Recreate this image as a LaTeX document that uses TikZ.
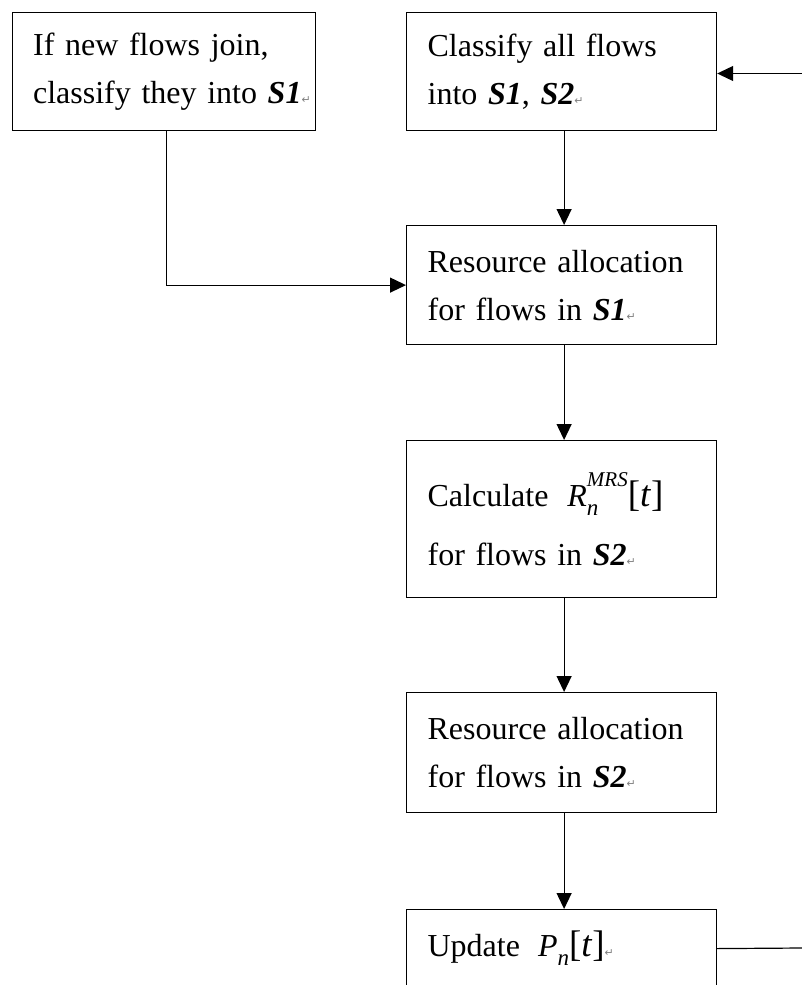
\documentclass[tikz,border=0pt]{standalone}
\usepackage{fontspec}
\setmainfont{Liberation Serif}
\newfontfamily\symfont{DejaVu Sans}
\usetikzlibrary{arrows.meta}
\newcommand{\ret}{{\symfont\fontsize{11}{11}\selectfont\color{gray}\char"21B5}}
\newcommand{\bs}[1]{\textbf{\textit{#1}}}
\newcommand{\boxfont}{\fontsize{32}{48}\selectfont\spaceskip=5.5pt plus 1pt\relax}
\newcommand{\supsubx}[3]{%
  \textit{#1}%
  \setbox0\hbox{\fontsize{21}{21}\selectfont\itshape #2}%
  \setbox2\hbox{\fontsize{23}{23}\selectfont\itshape #3}%
  \ifdim\wd0>\wd2 \dimen0=\wd0 \else \dimen0=\wd2 \fi
  \rlap{\raise 20pt\copy0}\rlap{\lower 9pt\copy2}\hskip\dimen0\relax}
\newcommand{\brt}{{\fontsize{37}{37}\selectfont[\textit{t}]}}
\begin{document}
\begin{tikzpicture}[x=1pt,y=-1pt,
  box/.style={draw, line width=1.2pt, minimum width=310pt, text width=268pt,
    inner xsep=21pt, inner ysep=0pt, align=left, anchor=north west,
    font=\boxfont},
  arr/.style={-{Triangle[length=16pt,width=15pt]}, line width=1.2pt}]
\useasboundingbox (0,0) rectangle (802,985);
\node[box, minimum width=303pt, text width=261pt, minimum height=118.5pt] (A) at (11.5,11.5)
  {\mbox{If new flows join,}\\\mbox{classify they into \bs{S1}\ret}};
\node[box, minimum height=118.5pt] (B) at (406,11.5)
  {\mbox{Classify all flows}\\\mbox{into \bs{S1}, \bs{S2}\ret}};
\node[box, minimum height=119pt] (C) at (406,225)
  {\mbox{Resource allocation}\\\mbox{for flows in \bs{S1}\ret}};
\node[box, minimum height=157pt] (D) at (406,440)
  {\mbox{Calculate\hspace{19pt}\supsubx{R}{MRS}{n}\brt}\\[11pt]\mbox{for flows in \bs{S2}\ret}};
\node[box, minimum height=120pt] (E) at (406,692)
  {\mbox{Resource allocation}\\\mbox{for flows in \bs{S2}\ret}};
\node[box, minimum height=78pt] (F) at (406,909)
  {\mbox{Update\hspace{18pt}\supsubx{P}{}{n}\brt\ret}};
\coordinate (inB) at (802,73.5);
\coordinate (outF) at (802,948);
\draw[arr] (inB) -- (inB -| B.east);
\draw[line width=1.2pt] (F.east) -- (outF);
\draw[arr] ([xshift=2.5pt]B.south) -- ([xshift=2.5pt]C.north);
\draw[arr] ([xshift=2.5pt]C.south) -- ([xshift=2.5pt]D.north);
\draw[arr] ([xshift=2.5pt]D.south) -- ([xshift=2.5pt]E.north);
\draw[arr] ([xshift=2.5pt]E.south) -- ([xshift=2.5pt]F.north);
\draw[arr] ([xshift=3pt]A.south) |- (C.west);
\end{tikzpicture}
\end{document}
